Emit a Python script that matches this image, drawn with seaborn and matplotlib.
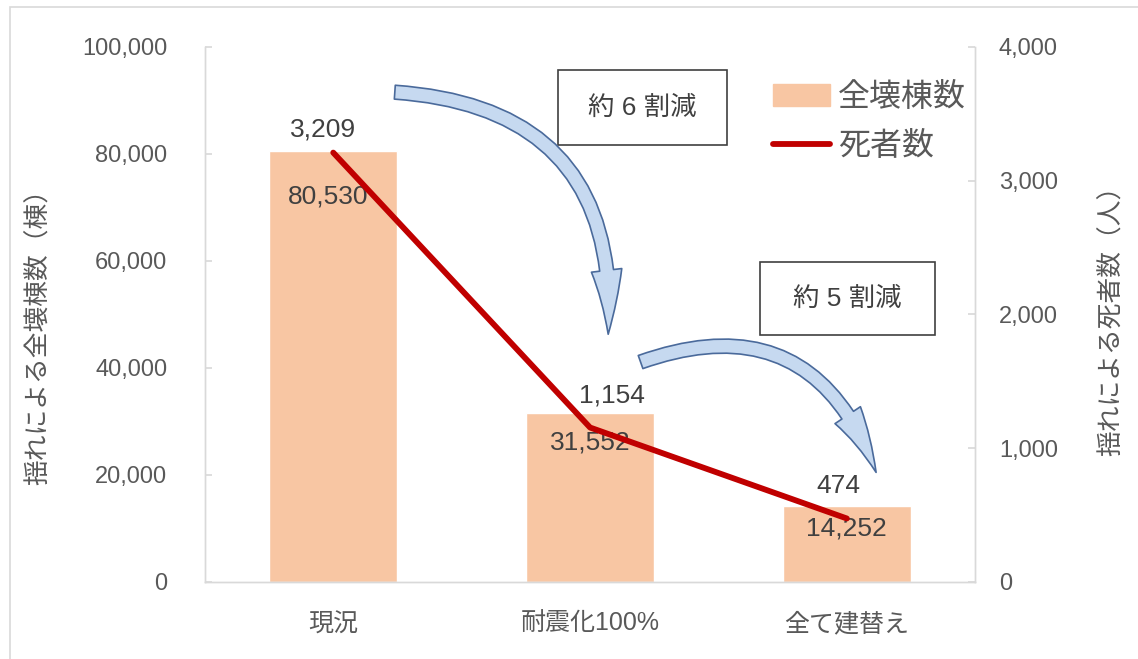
import numpy as np
import pandas as pd
import matplotlib
matplotlib.use("Agg")
import matplotlib.pyplot as plt
import matplotlib.patches as mpatches
from matplotlib.lines import Line2D
from matplotlib.ticker import FuncFormatter
import seaborn as sns

# data
scenarios = ["現況", "耐震化100%", "全て建替え"]
collapsed = [80530, 31552, 14252]   # 全壊棟数 (left axis)
deaths = [3209, 1154, 474]          # 死者数 (right axis)

sns.set_theme(style="white")
plt.rcParams["font.family"] = ["Liberation Sans", "Noto Sans CJK JP", "DejaVu Sans"]

df = pd.DataFrame({"scenario": scenarios, "collapsed": collapsed, "deaths": deaths})

bar_color = "#F8C6A3"
line_color = "#C00000"
grey = "#595959"
spine_grey = "#D9D9D9"

fig = plt.figure(figsize=(11.38, 6.59), dpi=100)
ax1 = fig.add_axes([0.180, 0.117, 0.677, 0.812])

sns.barplot(data=df, x="scenario", y="collapsed", color=bar_color,
            width=0.5, saturation=1, ax=ax1)
ax1.set_xlim(-0.5, 2.5)
ax1.set_ylim(0, 100000)
ax1.set_yticks(np.arange(0, 100001, 20000))
ax1.yaxis.set_major_formatter(FuncFormatter(lambda v, p: f"{int(v):,}"))
ax1.set_xlabel("")
ax1.set_ylabel("揺れによる全壊棟数（棟）", fontsize=18.5, color=grey)
ax1.yaxis.set_label_coords(-0.2, 0.47)
ax1.tick_params(axis="y", direction="in", length=5, color=spine_grey,
                labelsize=17, labelcolor=grey, pad=27, left=True)
ax1.tick_params(axis="x", length=0, labelsize=18, labelcolor=grey, pad=22)

ax2 = ax1.twinx()
sns.lineplot(x=np.arange(len(scenarios)), y=deaths, color=line_color,
             linewidth=4.2, ax=ax2)
ax2.set_ylim(0, 4000)
ax2.set_yticks(np.arange(0, 4001, 1000))
ax2.yaxis.set_major_formatter(FuncFormatter(lambda v, p: f"{int(v):,}"))
ax2.set_ylabel("揺れによる死者数（人）", fontsize=18.5, color=grey, rotation=90)
ax2.yaxis.set_label_coords(1.161, 0.50)
ax2.tick_params(axis="y", direction="in", length=5, color=spine_grey,
                labelsize=17, labelcolor=grey, pad=17, right=True)

for ax in (ax1, ax2):
    for s in ax.spines.values():
        s.set_color(spine_grey)
        s.set_linewidth(1.0)
    ax.spines["top"].set_visible(False)

# value labels (offsets in pixels)
bar_dx = [-5, 0, 0]
bar_dy = [-46, -29, -23]
for i, v in enumerate(collapsed):
    ax1.annotate(f"{v:,}", (i, v), xytext=(bar_dx[i] * 0.72, bar_dy[i] * 0.72),
                 textcoords="offset points", ha="center", va="center",
                 fontsize=19, color="#404040")
line_dx = [-10, 22, -8]
line_dy = [23, 32, 32]
for i, v in enumerate(deaths):
    ax2.annotate(f"{v:,}", (i, v), xytext=(line_dx[i] * 0.72, line_dy[i] * 0.72),
                 textcoords="offset points", ha="center", va="center",
                 fontsize=19, color="#404040")

# legend
handles = [mpatches.Patch(color=bar_color, label="全壊棟数"),
           Line2D([], [], color=line_color, linewidth=4.2, label="死者数")]
leg = ax2.legend(handles=handles, loc="upper right", bbox_to_anchor=(0.988, 0.932),
                 frameon=False, fontsize=23, handlelength=1.8, handletextpad=0.25,
                 labelspacing=0.6, borderpad=0, borderaxespad=0)
for t in leg.get_texts():
    t.set_color(grey)

# reduction boxes
for (x0, y0, w, h), txt in [((0.4903, 0.780, 0.1485, 0.1138), "約 6 割減"),
                            ((0.6678, 0.4917, 0.1538, 0.1108), "約 5 割減")]:
    fig.add_artist(mpatches.Rectangle((x0, y0), w, h, transform=fig.transFigure,
                                      facecolor="white", edgecolor="#404040",
                                      linewidth=1.2, zorder=5))
    fig.text(x0 + w / 2, y0 + h / 2, txt, ha="center", va="center",
             fontsize=19, color="#404040", zorder=6)

# curved arrows
for pa, pb, rad in [((0.3445, 0.8604), (0.5343, 0.4886), -0.5),
                    ((0.5606, 0.4492), (0.7707, 0.2792), -0.5)]:
    arr = mpatches.FancyArrowPatch(
        pa, pb, transform=fig.transFigure,
        connectionstyle=f"arc3,rad={rad}",
        arrowstyle="simple,tail_width=10,head_width=22,head_length=46",
        facecolor="#C6D9F0", edgecolor="#4A6A9B", linewidth=1.2, zorder=7)
    fig.add_artist(arr)

# outer frame
fig.add_artist(mpatches.Rectangle((10 / 1138, -0.1), 1.2, 1.1 - 7 / 659,
                                  transform=fig.transFigure, fill=False,
                                  edgecolor=spine_grey, linewidth=1.2))

fig.savefig("out.png", dpi=100)
